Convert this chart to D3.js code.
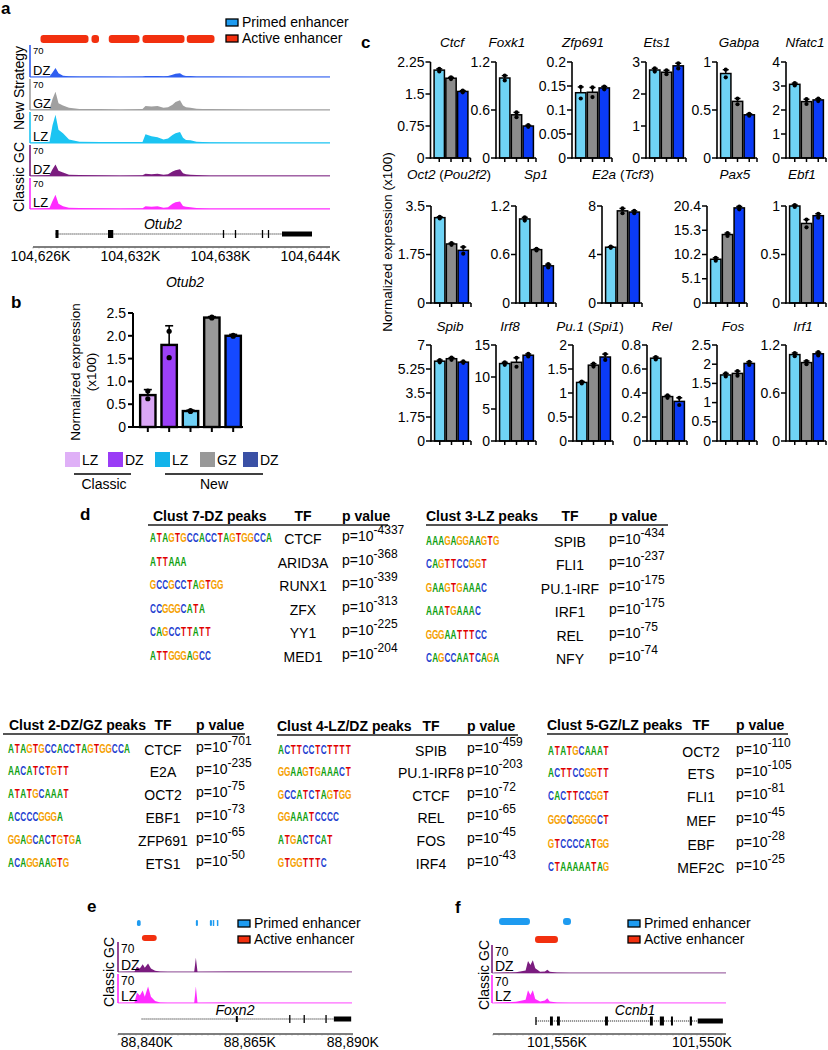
<!DOCTYPE html>
<html><head><meta charset="utf-8">
<script src="https://cdn.jsdelivr.net/npm/d3@7"></script>
<style>body{margin:0;background:#fff}svg{font-family:"Liberation Sans",Arial,sans-serif}</style>
</head><body><svg id="fig" width="828" height="1050"></svg>
<script>
// ===================== DATA =====================
// Panel a (Otub2 locus, genomic positions in kb)
const aRange = [104625.3, 104645.3];
const aAxisTicks = [104626, 104632, 104638, 104644];
const aActive = [[104626.0,104629.2],[104629.4,104629.9],[104630.55,104632.6],[104632.8,104635.6],[104635.75,104637.6]];
const aPos = [104625.3,104626.6,104626.8,104627.0,104627.2,104627.5,104627.9,104628.6,104630.0,104631.3,104632.8,104633.0,104633.4,104633.8,104634.2,104634.5,104634.8,104635.0,104635.3,104635.5,104635.7,104636.0,104636.4,104636.8,104637.3,104640.0,104645.3];
const aDZnew  = [0.5,1,10,19.5,8,3,1.5,1,1,0.5,1,2,2,2,1.5,2,5,7,8,4,2,2,1,1,1,0.5,0.5];
const aGZnew  = [1,2,25,41,15,10,5,2,2,1,2,9,8,9,5,6,12,18,22,10,6,5,3,2,2,1,1];
const aLZnew  = [1,3,40,64,30,22,8,3,2,2,2,20,15,13,8,10,18,22,25,12,7,6,3,2,1.5,1,1];
const aDZcls  = [1,2,15,26,12,8,3,2,1.5,1,1.5,5,4,5,3,4,10,13,15,6,4,3,2,1.5,1,1,1];
const aLZcls  = [1,2,18,32,12,6,3,2,1.5,1,1.5,6,5,6,3,4,12,15,17,7,5,4,2,1.5,1,1,1];
const aTrackNames = ["DZ","GZ","LZ","DZ","LZ"];
const trackMax = 70;
const aGeneSpan = [104627.0, 104644.1];
const aGeneCds = [[104627.0,104627.2],[104630.5,104630.85]];
const aGeneTicks = [104638.2,104639.0,104640.8,104641.2];
const aGeneUtr = [[104642.1,104644.1]];

// Panel b
const bGroups = ["LZ","DZ","LZ","GZ","DZ"];
const bSets = ["Classic","New"];
const bMeans = [0.70,1.80,0.35,2.40,2.00];
const bErrs = [0.12,0.42,0.02,0.02,0.03];
const bDots = [[0.79,0.62],[2.10,1.52],[0.36,0.34],[2.41,2.39],[2.01,1.99]];
const bTicks = [0,0.5,1.0,1.5,2.0,2.5];

// Panel c
const cGenes = ["Ctcf","Foxk1","Zfp691","Ets1","Gabpa","Nfatc1",
  "Oct2 (Pou2f2)","Sp1","E2a (Tcf3)","Pax5","Ebf1",
  "Spib","Irf8","Pu.1 (Spi1)","Rel","Fos","Irf1"];
const cTicks = [[0,0.75,1.5,2.25],[0,0.6,1.2],[0,0.05,0.1,0.15,0.2],[0,1,2,3],[0,0.5,1],[0,1,2,3,4],
  [0,1.75,3.5],[0,0.6,1.2],[0,4,8],[0,5.1,10.2,15.3,20.4],[0,0.5,1],
  [0,1.75,3.5,5.25,7],[0,5,10,15],[0,0.5,1,1.5,2],[0,0.2,0.4,0.6,0.8],[0,0.5,1,1.5,2,2.5],[0,0.6,1.2]];
const cMeans = [[2.06,1.87,1.56],[1.0,0.54,0.40],[0.136,0.137,0.146],[2.75,2.68,2.88],[0.88,0.59,0.45],[3.07,2.35,2.42],
  [3.08,2.13,1.90],[1.04,0.66,0.46],[4.6,7.6,7.5],[9.2,14.4,20.0],[1.0,0.82,0.90],
  [5.82,6.0,5.75],[12.1,12.3,13.4],[1.22,1.58,1.75],[0.69,0.37,0.33],[1.72,1.76,2.02],[1.08,0.98,1.09]];
const cErrs = [[0.03,0.02,0.02],[0.03,0.03,0.01],[0.012,0.01,0.003],[0.05,0.06,0.08],[0.04,0.03,0.01],[0.05,0.1,0.05],
  [0.03,0.03,0.12],[0.02,0.01,0.02],[0.05,0.2,0.1],[0.3,0.3,0.3],[0.01,0.04,0.02],
  [0.08,0.08,0.05],[0.2,0.7,0.2],[0.02,0.03,0.06],[0.01,0.01,0.03],[0.04,0.06,0.04],[0.02,0.02,0.02]];

// Panel d
const dTitles = ["Clust 7-DZ peaks","Clust 3-LZ peaks","Clust 2-DZ/GZ peaks","Clust 4-LZ/DZ peaks","Clust 5-GZ/LZ peaks"];
const dMotifs = [
  ["ATAGTGCCACCTAGTGGCCA","ATTAAA","GCCGCCTAGTGG","CCGGGCATA","CAGCCTTATT","ATTGGGAGCC"],
  ["AAAGAGGAAGTG","CAGTTCCGGT","GAAGTGAAAC","AAATGAAAC","GGGAATTTCC","CAGCCAATCAGA"],
  ["ATAGTGCCACCTAGTGGCCA","AACATCTGTT","ATATGCAAAT","ACCCCGGGA","GGAGCACTGTGA","ACAGGAAGTG"],
  ["ACTTCCTCTTTT","GGAAGTGAAACT","GCCATCTAGTGG","GGAAATCCCC","ATGACTCAT","GTGGTTTC"],
  ["ATATGCAAAT","ACTTCCGGTT","CACTTCCGGT","GGGCGGGGCT","GTCCCCATGG","CTAAAAATAG"]];
const dTFs = [
  ["CTCF","ARID3A","RUNX1","ZFX","YY1","MED1"],
  ["SPIB","FLI1","PU.1-IRF","IRF1","REL","NFY"],
  ["CTCF","E2A","OCT2","EBF1","ZFP691","ETS1"],
  ["SPIB","PU.1-IRF8","CTCF","REL","FOS","IRF4"],
  ["OCT2","ETS","FLI1","MEF","EBF","MEF2C"]];
const dLogP = [
  [4337,368,339,313,225,204],
  [434,237,175,175,75,74],
  [701,235,75,73,65,50],
  [459,203,72,65,45,43],
  [110,105,81,45,28,25]];

// Panel e (Foxn2)
const eRange = [88833.0, 88889.8];
const eAxisTicks = [88840, 88865, 88890];
const ePrimed = [[88837.6,88838.5],[88851.9,88852.4],[88855.3,88855.8],[88856.0,88856.3],[88857.0,88857.3]];
const eActive = [[88838.8,88842.4]];
const ePos = [88833.0,88837.0,88837.6,88838.3,88839.0,88839.5,88840.3,88841.0,88842.0,88843.2,88845.0,88851.5,88851.9,88852.3,88860.0,88889.8];
const eDZ = [0.5,1,12,8,18,10,20,8,3,1,0.5,0.5,33,0.5,1,0.5];
const eLZ = [0.5,1,25,18,30,15,40,15,5,1,0.5,0.5,40,0.5,1,0.5];
const eGeneSpan = [88838.7, 88888.6];
const eGeneCds = [[88861.6,88862.0]];
const eGeneTicks = [88874.7,88878.2,88883.5];
const eGeneUtr = [[88885.4,88889.6]];

// Panel f (Ccnb1), reversed coordinates
const fRange = [101558.65, 101549.0];
const fAxisTicks = [101556, 101550];
const fPrimed = [[101558.4,101557.12],[101555.75,101555.42]];
const fActive = [[101556.91,101555.96]];
const fPos = [101558.6,101557.7,101557.3,101557.2,101557.1,101557.0,101556.9,101556.7,101556.5,101556.4,101556.3,101556.0,101555.5,101549.0];
const fDZ = [0.5,2,6,30,20,32,12,3,4,8,3,1,0.5,0.5];
const fLZ = [0.5,3,8,32,20,32,10,4,6,12,4,1,0.5,0.5];
const fGeneSpan = [101556.87, 101549.13];
const fGeneCds = [[101556.29,101556.17],[101556.0,101555.88],[101554.01,101553.89],[101552.15,101552.03],[101551.74,101551.57],[101551.28,101551.2],[101550.5,101550.41]];
const fGeneTicks = [101556.87];
const fGeneUtr = [[101550.17,101549.13]];

const legendNames = ["Primed enhancer","Active enhancer"];

// ===================== DRAWING =====================
const svg = d3.select("#fig");
const C = {primed:"#1e9bf0", active:"#f2300f",
  dzNew:"#2f5ef0", gz:"#a0a0a0", lzNew:"#1cc4f2", dzCls:"#7b1c7f", lzCls:"#ff2cff",
  cLight:"#6fd3f5", cGray:"#8c8c8c", cBlue:"#0b3bf7"};
const motifColor = {A:"#10a010", C:"#1f3fd0", G:"#f5a000", T:"#e00000"};

function txt(g,x,y,s,o={}){
  const t=g.append("text").attr("x",x).attr("y",y).text(s).attr("font-size",o.size||14).attr("fill",o.fill||"#000");
  if(o.anchor)t.attr("text-anchor",o.anchor);
  if(o.weight)t.attr("font-weight",o.weight);
  if(o.style)t.attr("font-style",o.style);
  return t;
}
function rotText(g,x,y,s,size){
  g.append("text").attr("transform",`translate(${x},${y}) rotate(-90)`).attr("text-anchor","middle")
   .attr("font-size",size).text(s);
}
function line(g,x1,y1,x2,y2,col,w){
  return g.append("line").attr("x1",x1).attr("y1",y1).attr("x2",x2).attr("y2",y2).attr("stroke",col).attr("stroke-width",w);
}
function panelLabel(x,y,s){txt(svg,x,y,s,{size:17,weight:"bold"});}

function legend(g,x,y){
  [C.primed,C.active].forEach((c,i)=>{
    g.append("rect").attr("x",x).attr("y",y+i*16).attr("width",12).attr("height",7).attr("fill",c).attr("stroke","#000").attr("stroke-width",1.3);
    txt(g,x+16,y+i*16+8,legendNames[i],{size:14});
  });
}
function enhBars(g,x,list,y,h,col){
  list.forEach(d=>{
    const x0=Math.min(x(d[0]),x(d[1])), x1=Math.max(x(d[0]),x(d[1]));
    g.append("rect").attr("x",x0).attr("y",y).attr("width",Math.max(1.5,x1-x0)).attr("height",h).attr("rx",Math.min(3,(x1-x0)/2)).attr("fill",col);
  });
}
function drawTracks(g,x,pos,left,right,tracks,maxSize,labSize){
  tracks.forEach(t=>{
    const y=d3.scaleLinear([0,trackMax],[t.base,t.top]);
    line(g,left,t.base,right,t.base,t.line,1.2);
    const area=d3.area().x((d,i)=>x(pos[i])).y0(t.base).y1(d=>y(d));
    g.append("path").attr("d",area(t.vals)).attr("fill",t.color);
    line(g,left,t.top,left,t.base,t.color,1.6);
    txt(g,left+3,t.top+(maxSize-1),String(trackMax),{size:maxSize});
    txt(g,left+3,t.base-2,t.name,{size:labSize});
  });
}
function drawGene(g,x,y,span,cds,ticks,utr,cdsH){
  line(g,x(span[0]),y,x(span[1]),y,"#777",1.6).attr("stroke-dasharray","1.2,0.8");
  cds.forEach(d=>{const a=Math.min(x(d[0]),x(d[1])),b=Math.max(x(d[0]),x(d[1]));
    g.append("rect").attr("x",a).attr("y",y-cdsH/2).attr("width",Math.max(2,b-a)).attr("height",cdsH).attr("fill","#000");});
  ticks.forEach(v=>line(g,x(v),y-4,x(v),y+4,"#000",1.3));
  utr.forEach(d=>{const a=Math.min(x(d[0]),x(d[1])),b=Math.max(x(d[0]),x(d[1]));
    g.append("rect").attr("x",a).attr("y",y-2.5).attr("width",b-a).attr("height",5).attr("fill","#000");});
}
function ruler(g,x,y,x0,x1,ticks,lab){
  line(g,x0,y,x1,y,"#555",1.3);
  for(let p=x0;p<=x1;p+=6) line(g,p,y,p,y+1.5,"#777",0.6);
  ticks.forEach(v=>txt(g,x(v),lab,d3.format(",")(v)+"K",{size:14,anchor:"middle"}));
}

// ---------- Panel a ----------
panelLabel(1,14,"a");
const ga=svg.append("g");
const xa=d3.scaleLinear(aRange,[30,330]);
legend(ga,226,19);
enhBars(ga,xa,aActive,35,8,C.active);
drawTracks(ga,xa,aPos,30,330,[
  {top:45,base:77,color:C.dzNew,line:C.dzNew,name:aTrackNames[0],vals:aDZnew},
  {top:79,base:110,color:C.gz,line:C.gz,name:aTrackNames[1],vals:aGZnew},
  {top:112,base:143,color:C.lzNew,line:C.lzNew,name:aTrackNames[2],vals:aLZnew},
  {top:145,base:176,color:C.dzCls,line:"#9a5aa0",name:aTrackNames[3],vals:aDZcls},
  {top:178,base:209,color:C.lzCls,line:C.lzCls,name:aTrackNames[4],vals:aLZcls}],9.5,13);
rotText(ga,24,88,"New Strategy",14);
rotText(ga,24,177,"Classic GC",14);
txt(ga,163,229,"Otub2",{size:14,style:"italic",anchor:"middle"});
drawGene(ga,xa,234,aGeneSpan,aGeneCds,aGeneTicks,aGeneUtr,8);
ruler(ga,xa,247,33,330,aAxisTicks,261);
txt(ga,185,287,"Otub2",{size:14,style:"italic",anchor:"middle"});

// ---------- Panel b ----------
panelLabel(11,308,"b");
const gb=svg.append("g");
const yb=d3.scaleLinear([0,2.5],[427,313]);
const xb=d3.scaleBand(d3.range(bMeans.length),[138,243]).paddingInner(0.28).paddingOuter(0.1);
const bFill=["#d9a6f5","#9c40f8","#6fd0f5","#999999","#1549ff"];
const bLeg=["#dfb0f7","#9a3cf6","#13b3ea","#999999","#3a50a5"];
bMeans.forEach((m,i)=>{
  const cx=xb(i)+xb.bandwidth()/2;
  line(gb,cx,yb(m),cx,yb(m+bErrs[i]),"#000",1.6);
  line(gb,cx-4,yb(m+bErrs[i]),cx+4,yb(m+bErrs[i]),"#000",1.6);
  gb.append("rect").attr("x",xb(i)).attr("y",yb(m)).attr("width",xb.bandwidth()).attr("height",427-yb(m))
    .attr("fill",bFill[i]).attr("stroke","#000").attr("stroke-width",2.4);
  bDots[i].forEach(v=>gb.append("circle").attr("cx",cx).attr("cy",yb(v)).attr("r",2.6).attr("fill","#000"));
  line(gb,cx,427,cx,432,"#000",2);
});
line(gb,133,313,133,428,"#000",2);
line(gb,132,427,243,427,"#000",2);
bTicks.forEach(v=>{line(gb,128,yb(v),133,yb(v),"#000",2);
  txt(gb,126,yb(v)+5,v===0?"0":v.toFixed(1),{size:14,anchor:"end"});});
rotText(gb,80,372,"Normalized expression",13.5);
rotText(gb,96,372,"(x100)",13.5);
[65,108,155,200,243].forEach((lx,i)=>{
  gb.append("rect").attr("x",lx).attr("y",452).attr("width",15).attr("height",15).attr("fill",bLeg[i]);
  txt(gb,lx+17,465,bGroups[i],{size:14});
});
line(gb,74,474,131,474,"#000",1.6);
line(gb,165,474,263,474,"#000",1.6);
txt(gb,104,489,bSets[0],{size:14,anchor:"middle"});
txt(gb,214,489,bSets[1],{size:14,anchor:"middle"});

// ---------- Panel c ----------
panelLabel(361,48,"c");
const gc=svg.append("g");
const cAxisX=[430.5,496,572,646,717,786, 431,516,602,707,786, 431,496,573,647,717,786];
const cRow=[0,0,0,0,0,0,1,1,1,1,1,2,2,2,2,2,2];
const cRowY=[[62,158],[206,303],[345,441]];
const cTitleY=[47,179,331];
const cTitleX=[452,507,583,657,739,805, 449,536,623,735,802, 450,510,590,662,733,803];
const cFill=[C.cLight,C.cGray,C.cBlue];
cGenes.forEach((name,k)=>{
  const ax=cAxisX[k],[top,bot]=cRowY[cRow[k]];
  const tk=cTicks[k];
  const y=d3.scaleLinear([0,tk[tk.length-1]],[bot,top]);
  const x=d3.scaleBand([0,1,2],[ax+3,ax+38]).paddingInner(0.12).paddingOuter(0.05);
  const t=gc.append("text").attr("x",cTitleX[k]).attr("y",cTitleY[cRow[k]]).attr("text-anchor","middle").attr("font-size",13.5);
  const m=name.match(/^(\S+) \((\S+)\)$/);
  if(m){t.append("tspan").attr("font-style","italic").text(m[1]);t.append("tspan").text(" (");
    t.append("tspan").attr("font-style","italic").text(m[2]);t.append("tspan").text(")");}
  else t.append("tspan").attr("font-style","italic").text(name);
  cMeans[k].forEach((v,i)=>{
    const cx=x(i)+x.bandwidth()/2, e=cErrs[k][i];
    line(gc,cx,y(v),cx,y(v+e),"#000",1.4);
    line(gc,cx-3,y(v+e),cx+3,y(v+e),"#000",1.4);
    gc.append("rect").attr("x",x(i)).attr("y",y(v)).attr("width",x.bandwidth()).attr("height",bot-y(v))
      .attr("fill",cFill[i]).attr("stroke","#000").attr("stroke-width",1.5);
    [v+e,v-e].forEach(d=>gc.append("circle").attr("cx",cx).attr("cy",y(d)).attr("r",2.1).attr("fill","#000"));
    line(gc,cx,bot,cx,bot+4,"#000",1.5);
  });
  line(gc,ax,top,ax,bot+0.75,"#000",1.6);
  line(gc,ax-0.75,bot,ax+40,bot,"#000",1.6);
  line(gc,ax+40,bot,ax+40,bot+4,"#000",1.5);
  tk.forEach(v=>{line(gc,ax-5,y(v),ax,y(v),"#000",1.5);
    txt(gc,ax-6,y(v)+4.5,String(v),{size:14,anchor:"end"});});
});
rotText(gc,392,242,"Normalized expression (x100)",13.5);

// ---------- Panel d ----------
panelLabel(80,520,"d");
const gd=svg.append("g");
const dLay=[
  {x0:148,x1:388,hx:153,hy:521,tf:303,px:342,mx:150,rows:[544,568,591,615,638,662]},
  {x0:426,x1:668,hx:426,hy:521,tf:570,px:609,mx:426,rows:[547,570,594,617,641,664]},
  {x0:3,x1:245,hx:9,hy:730,tf:163,px:196,mx:8,rows:[755,777,800,823,846,869]},
  {x0:277,x1:518,hx:277,hy:731,tf:431,px:467,mx:278,rows:[756,778,801,823,846,869]},
  {x0:547,x1:788,hx:547,hy:730,tf:701,px:736,mx:548,rows:[757,779,802,826,850,873]}];
const letterW = 6.1;
dTitles.forEach((title,k)=>{
  const L=dLay[k];
  txt(gd,L.hx,L.hy,title,{size:14,weight:"bold"});
  txt(gd,L.tf,L.hy,"TF",{size:14,weight:"bold",anchor:"middle"});
  txt(gd,L.px,L.hy,"p value",{size:14,weight:"bold"});
  line(gd,L.x0,L.hy+4,L.x1,L.hy+4,"#555",1.8);
  dTFs[k].forEach((tf,r)=>{
    const ry=L.rows[r];
    txt(gd,L.tf,ry,tf,{size:14,anchor:"middle"});
    const p=gd.append("text").attr("x",L.px).attr("y",ry-3).attr("font-size",14);
    p.append("tspan").text("p=10");
    p.append("tspan").attr("dy",-7).attr("font-size",12).text("-"+dLogP[k][r]);
    const seq=dMotifs[k][r];
    const gm=gd.append("g").attr("transform",`translate(${L.mx},${ry-2}) scale(1,1.6)`);
    seq.split("").forEach((ch,i)=>gm.append("text").attr("x",i*letterW+letterW/2).attr("y",0)
      .attr("text-anchor","middle").attr("font-size",8.2).attr("font-weight","bold")
      .attr("fill",motifColor[ch]).text(ch));
  });
});

// ---------- Panel e ----------
panelLabel(87,912,"e");
const ge=svg.append("g");
const xe=d3.scaleLinear(eRange,[118,352]);
enhBars(ge,xe,ePrimed,920,6,C.primed);
enhBars(ge,xe,eActive,935,6,C.active);
legend(ge,238,920);
drawTracks(ge,xe,ePos,118,352,[
  {top:942,base:972,color:C.dzCls,line:"#a070a8",name:"DZ",vals:eDZ},
  {top:974,base:1003,color:C.lzCls,line:"#ff66ff",name:"LZ",vals:eLZ}],12,14);
rotText(ge,113.5,972,"Classic GC",14);
txt(ge,235,1015,"Foxn2",{size:14,style:"italic",anchor:"middle"});
drawGene(ge,xe,1019,eGeneSpan,eGeneCds,eGeneTicks,eGeneUtr,6);
ruler(ge,xe,1034,118,353,eAxisTicks,1047);

// ---------- Panel f ----------
panelLabel(455,913,"f");
const gf=svg.append("g");
const xf=d3.scaleLinear(fRange,[493,726]);
enhBars(gf,xf,fPrimed,918,7,C.primed);
enhBars(gf,xf,fActive,936,7,C.active);
legend(gf,628,920);
drawTracks(gf,xf,fPos,492,726,[
  {top:945,base:973,color:C.dzCls,line:"#a070a8",name:"DZ",vals:fDZ},
  {top:975,base:1003,color:C.lzCls,line:"#ff66ff",name:"LZ",vals:fLZ}],12,14);
rotText(gf,489,975,"Classic GC",14);
txt(gf,635,1015,"Ccnb1",{size:14,style:"italic",anchor:"middle"});
drawGene(gf,xf,1021,fGeneSpan,fGeneCds,fGeneTicks,fGeneUtr,9);
ruler(gf,xf,1034,493,726,fAxisTicks,1047);
</script></body></html>
